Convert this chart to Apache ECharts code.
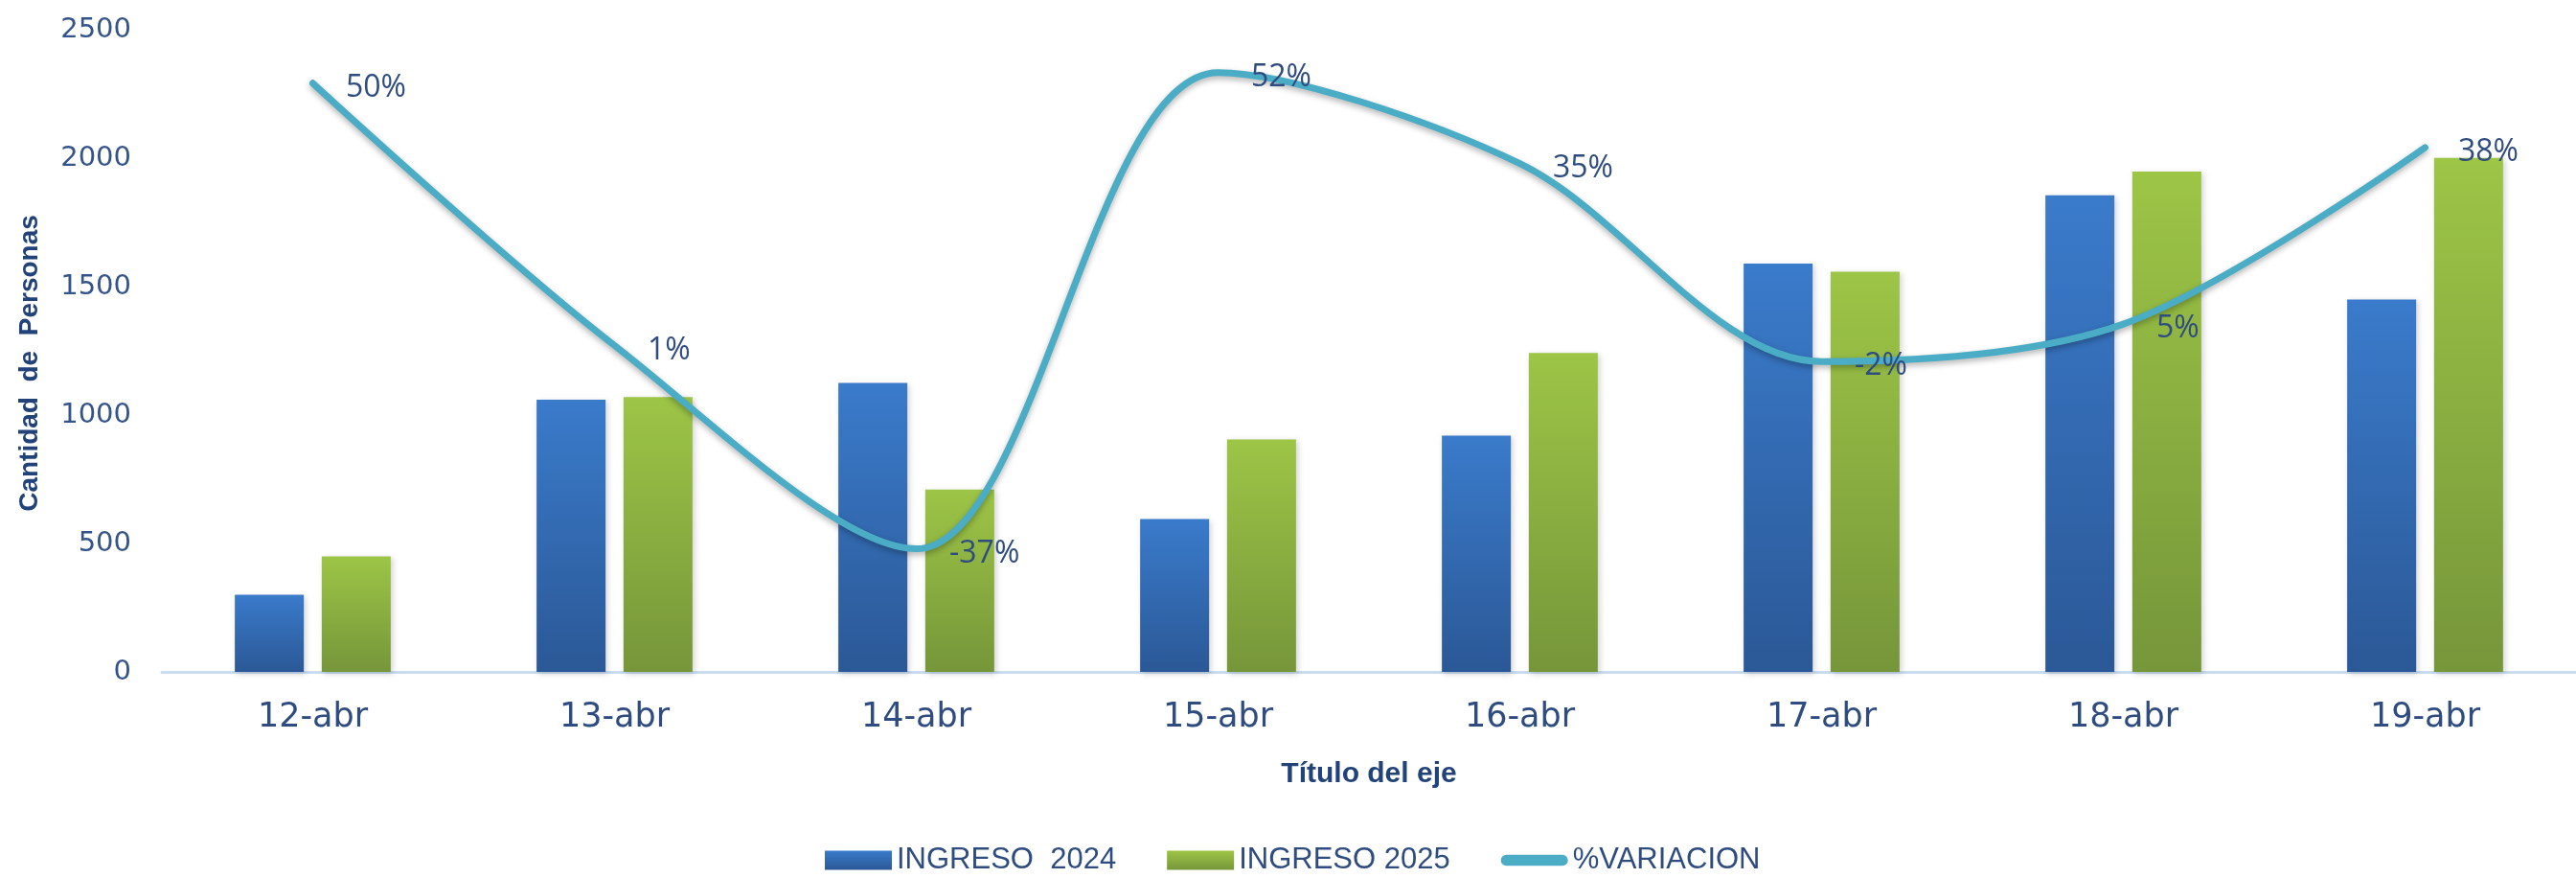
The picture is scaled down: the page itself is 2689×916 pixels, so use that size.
<!DOCTYPE html>
<html>
<head>
<meta charset="utf-8">
<script src="https://cdn.jsdelivr.net/npm/echarts@6/dist/echarts.min.js"></script>
<style>html,body{margin:0;padding:0;background:#fff}#c{width:2689px;height:916px}</style>
</head>
<body>
<div id="c"></div>
<script>
const categories = ['12-abr','13-abr','14-abr','15-abr','16-abr','17-abr','18-abr','19-abr'];
const ingreso2024 = [300, 1060, 1125, 595, 920, 1590, 1855, 1450];
const ingreso2025 = [450, 1070, 710, 905, 1242, 1558, 1948, 2001];
const variacion = [0.50, 0.01, -0.37, 0.52, 0.35, -0.02, 0.05, 0.38];
const yTicks = [0, 500, 1000, 1500, 2000, 2500];

const chart = echarts.init(document.getElementById('c'));
const txt = '#2F4C80';
function grad(top, bottom){
  return new echarts.graphic.LinearGradient(0,0,0,1,[{offset:0,color:top},{offset:1,color:bottom}]);
}
chart.setOption({
  animation:false,
  backgroundColor:'#ffffff',
  grid:{left:169, top:31, width:2525, bottom:215, containLabel:false},
  graphic:[{
    type:'text', x:31, y:379, rotation:Math.PI/2,
    style:{text:'Cantidad  de  Personas', align:'center', verticalAlign:'middle',
      font:'bold 28px "Liberation Sans Narrow", "Arial Narrow", sans-serif', fill:'#22427A'}
  }],
  legend:{
    left:856, top:877, itemWidth:70, itemHeight:20, itemGap:53, symbolKeepAspect:true,
    textStyle:{fontFamily:'Liberation Sans Narrow, Arial Narrow, sans-serif', fontSize:31, color:txt},
    data:[
      {name:'INGRESO  2024', icon:'rect'},
      {name:'INGRESO 2025', icon:'rect'},
      {name:'%VARIACION', icon:'path://M6,0 L68,0 A6,6 0 0 1 68,12 L6,12 A6,6 0 0 1 6,0 Z', itemStyle:{color:'#4BACC6'}}
    ]
  },
  xAxis:{
    type:'category', data:categories,
    axisLine:{lineStyle:{color:'#C9DCF0', width:3}},
    axisTick:{show:false},
    axisLabel:{fontFamily:'DejaVu Sans, sans-serif', fontSize:35, color:txt, margin:30},
    name:'Título del eje', nameLocation:'middle', nameGap:92,
    nameTextStyle:{fontFamily:'Liberation Sans Narrow, Arial Narrow, sans-serif', fontWeight:'bold', fontSize:30, color:'#22427A'}
  },
  yAxis:[{
    type:'value', min:yTicks[0], max:yTicks[yTicks.length-1], interval:500,
    splitLine:{show:false}, axisLine:{show:false}, axisTick:{show:false},
    axisLabel:{fontFamily:'DejaVu Sans, sans-serif', fontSize:29, color:'#34548A', margin:32, formatter:v=>String(v)}
  },{
    type:'value', min:-0.6, max:0.6, show:false, splitLine:{show:false}
  }],
  series:[
    {
      name:'INGRESO  2024', type:'bar', data:ingreso2024, barWidth:72, barGap:'26%',
      itemStyle:{color:grad('#3A7BCB','#2B5896'), shadowColor:'rgba(0,0,0,0.18)', shadowBlur:6, shadowOffsetX:2, shadowOffsetY:2}
    },
    {
      name:'INGRESO 2025', type:'bar', data:ingreso2025, barWidth:72, barGap:'26%',
      itemStyle:{color:grad('#9DC546','#76963A'), shadowColor:'rgba(0,0,0,0.18)', shadowBlur:6, shadowOffsetX:2, shadowOffsetY:2}
    },
    {
      name:'%VARIACION', type:'line', yAxisIndex:1, data:variacion, smooth:0.32,
      symbol:'circle', symbolSize:1, showSymbol:true, z:5,
      lineStyle:{color:'#4BACC6', width:7, cap:'round', shadowColor:'rgba(0,0,0,0.3)', shadowBlur:6, shadowOffsetY:3},
      itemStyle:{color:'rgba(75,172,198,0)'},
      label:{show:true, position:'right', distance:34, offset:[0,5], fontFamily:'Open Sans, sans-serif', fontSize:32, color:txt,
        formatter:p=>Math.round(p.value*100)+'%'}
    }
  ]
});
</script>
</body>
</html>
